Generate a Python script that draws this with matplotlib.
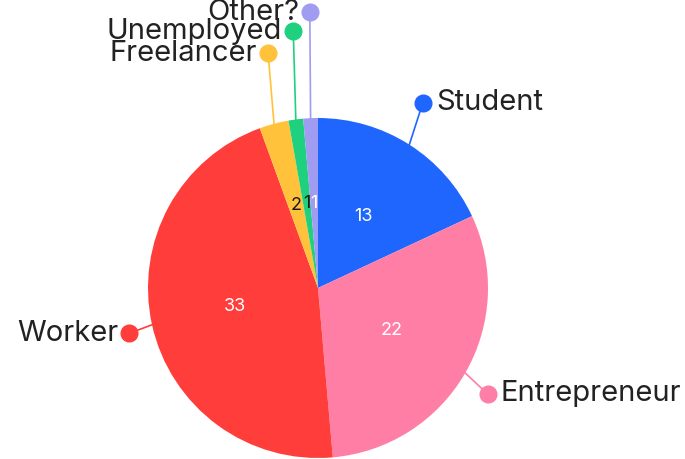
import matplotlib.pyplot as plt
import numpy as np

labels = ['Student', 'Entrepreneur', 'Worker', 'Freelancer', 'Unemployed', 'Other?']
values = [13, 22, 33, 2, 1, 1]
colors = ['#1f66ff', '#ff7ea6', '#ff3d3a', '#ffc23a', '#1fd07f', '#9f9cf2']
num_colors = ['white', 'white', 'white', '#1a1a1a', '#1a1a1a', 'white']

plt.rcParams['font.family'] = ['Inter', 'DejaVu Sans']

W, H = 685, 459
fig = plt.figure(figsize=(W / 100, H / 100), dpi=100)
ax = fig.add_axes([0, 0, 1, 1])

cx, cy, R = 318, H - 288, 170
wedges, _ = ax.pie(values, colors=colors, startangle=90, counterclock=False,
                   center=(cx, cy), radius=R, frame=True,
                   wedgeprops=dict(linewidth=0))
ax.set_xlim(0, W)
ax.set_ylim(0, H)
ax.set_aspect('equal')
ax.axis('off')

# numbers inside slices
for w, v, c in zip(wedges, values, num_colors):
    mid = np.deg2rad((w.theta1 + w.theta2) / 2)
    r = 0.5 * R
    ax.text(cx + r * np.cos(mid), cy + r * np.sin(mid), str(v), color=c,
            ha='center', va='center', fontsize=13)

# outside labels: radius of dot, angle nudge, side of text
dot_r = [213, 200, 194, 240, 258, 276]
nudge = [3, -2, 1, -3, -2, -0.8]
side = ['right', 'right', 'left', 'left', 'left', 'left']
for w, lab, col, dr, dn, sd in zip(wedges, labels, colors, dot_r, nudge, side):
    mid = (w.theta1 + w.theta2) / 2
    a0 = np.deg2rad(mid)
    a1 = np.deg2rad(mid + dn)
    x0, y0 = cx + R * np.cos(a0), cy + R * np.sin(a0)
    x1, y1 = cx + dr * np.cos(a1), cy + dr * np.sin(a1)
    ax.plot([x0, x1], [y0, y1], color=col, lw=1.2, zorder=1)
    ax.plot(x1, y1, 'o', color=col, ms=12, zorder=3)
    if sd == 'right':
        ax.text(x1 + 13, y1, lab, ha='left', va='center', fontsize=21, color='#222222')
    else:
        ax.text(x1 - 11, y1, lab, ha='right', va='center', fontsize=21, color='#222222')

fig.savefig('out.png', dpi=100, facecolor='white')
